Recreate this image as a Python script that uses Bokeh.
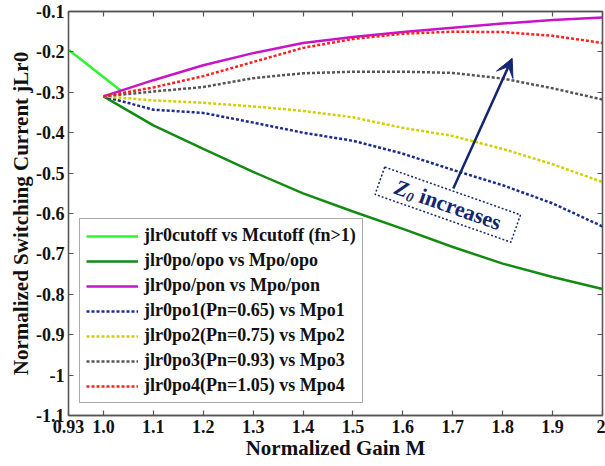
import math
from bokeh.plotting import figure
from bokeh.models import (Range1d, FixedTicker, LinearAxis, Legend, LegendItem,
                          Label, Arrow, VeeHead)
from bokeh.embed import file_html
from bokeh.resources import INLINE

# ---------------- data ----------------
M = [1.0, 1.1, 1.2, 1.3, 1.4, 1.5, 1.6, 1.7, 1.8, 1.9, 2.0]

M_cutoff = [0.93, 0.95, 0.98, 1.0, 1.035]
j_cutoff = [-0.195, -0.214, -0.243, -0.262, -0.296]

j_opo = [-0.31, -0.382, -0.44, -0.497, -0.55, -0.595, -0.638, -0.683, -0.724, -0.757, -0.787]
j_pon = [-0.31, -0.27, -0.233, -0.203, -0.178, -0.163, -0.151, -0.14, -0.13, -0.121, -0.115]
j_po1 = [-0.31, -0.343, -0.351, -0.375, -0.40, -0.42, -0.452, -0.492, -0.53, -0.575, -0.632]
j_po2 = [-0.31, -0.32, -0.326, -0.335, -0.346, -0.362, -0.388, -0.408, -0.44, -0.478, -0.522]
j_po3 = [-0.31, -0.298, -0.287, -0.265, -0.253, -0.249, -0.249, -0.252, -0.266, -0.29, -0.318]
j_po4 = [-0.31, -0.288, -0.26, -0.225, -0.19, -0.168, -0.155, -0.15, -0.151, -0.16, -0.178]

legend_labels = ["jlr0cutoff vs Mcutoff (fn>1)", "jlr0po/opo vs Mpo/opo", "jlr0po/pon vs Mpo/pon",
                 "jlr0po1(Pn=0.65) vs Mpo1", "jlr0po2(Pn=0.75) vs Mpo2",
                 "jlr0po3(Pn=0.93) vs Mpo3", "jlr0po4(Pn=1.05) vs Mpo4"]

x_ticks = [0.93, 1.0, 1.1, 1.2, 1.3, 1.4, 1.5, 1.6, 1.7, 1.8, 1.9, 2.0]
x_tick_labels = ["0.93", "1.0", "1.1", "1.2", "1.3", "1.4", "1.5", "1.6", "1.7", "1.8", "1.9", "2"]
y_ticks = [-1.1, -1.0, -0.9, -0.8, -0.7, -0.6, -0.5, -0.4, -0.3, -0.2, -0.1]
y_tick_labels = ["-1.1", "-1", "-0.9", "-0.8", "-0.7", "-0.6", "-0.5", "-0.4", "-0.3", "-0.2", "-0.1"]

x_title = "Normalized Gain M"
y_title = "Normalized Switching Current jLr0"

# annotation anchors (data units)
arrow_tail = (1.701, -0.538)
arrow_tip = (1.819, -0.216)
box_center = (1.690, -0.578)

FONT = "Liberation Serif"
NAVY = "#14266e"

p = figure(width=605, height=466, output_backend="svg", toolbar_location=None,
           x_range=Range1d(0.93, 2.0), y_range=Range1d(-1.1, -0.1),
           min_border_left=68, min_border_right=3, min_border_top=11, min_border_bottom=51,
           x_axis_location=None, y_axis_location=None)
p.grid.visible = False
p.outline_line_color = "#555555"
p.outline_line_width = 1.3
p.background_fill_color = "white"
p.border_fill_color = "white"


def make_axis(ticks, labels, show_labels, title=None):
    ax = LinearAxis(ticker=FixedTicker(ticks=ticks))
    ax.major_tick_in = 5
    ax.major_tick_out = 0
    ax.minor_tick_in = 0
    ax.minor_tick_out = 0
    ax.axis_line_color = "#555555"
    ax.axis_line_width = 1.3
    ax.major_tick_line_color = "#555555"
    ax.major_tick_line_width = 1.2
    ax.major_label_text_font = FONT
    ax.major_label_text_font_style = "bold"
    if show_labels:
        ax.major_label_overrides = {t: l for t, l in zip(ticks, labels)}
        ax.major_label_text_color = "#111111"
        ax.major_label_text_font_size = "18px"
        ax.major_label_standoff = 4
    else:
        ax.major_label_overrides = {t: "" for t in ticks}
        ax.major_label_text_color = None
        ax.major_label_text_font_size = "1px"
        ax.major_label_standoff = 0
    if title:
        ax.axis_label = title
        ax.axis_label_text_font = FONT
        ax.axis_label_text_font_style = "bold"
        ax.axis_label_text_font_size = "21px"
        ax.axis_label_text_color = "#111111"
        ax.axis_label_standoff = 0
    return ax


p.add_layout(make_axis(x_ticks, x_tick_labels, True, x_title), "below")
p.add_layout(make_axis(y_ticks, y_tick_labels, True, y_title), "left")
p.add_layout(make_axis(x_ticks, x_tick_labels, False), "above")
p.add_layout(make_axis(y_ticks, y_tick_labels, False), "right")

# ---------------- lines ----------------
LW = 2.5
DOT = "3 2"
r0 = p.line(M_cutoff, j_cutoff, line_color="#2ef52e", line_width=LW)
r1 = p.line(M, j_opo, line_color="#138a13", line_width=LW)
r2 = p.line(M, j_pon, line_color="#c814c8", line_width=LW)
r3 = p.line(M, j_po1, line_color="#1c2c8c", line_width=LW, line_dash=DOT)
r4 = p.line(M, j_po2, line_color="#d0d000", line_width=LW, line_dash=DOT)
r5 = p.line(M, j_po3, line_color="#555555", line_width=LW, line_dash=DOT)
r6 = p.line(M, j_po4, line_color="#ff2020", line_width=LW, line_dash=DOT)

renderers = [r0, r1, r2, r3, r4, r5, r6]
legend = Legend(items=[LegendItem(label=l, renderers=[r]) for l, r in zip(legend_labels, renderers)],
                location=(11, 12), orientation="vertical",
                label_text_font=FONT, label_text_font_style="bold", label_text_font_size="18px",
                label_text_color="#111111",
                label_height=20, glyph_height=20, glyph_width=52, label_standoff=6,
                spacing=4, padding=6, margin=0,
                border_line_color="#555555", border_line_width=1.5,
                background_fill_color="white", background_fill_alpha=1.0)
p.add_layout(legend)

# ---------------- annotation ----------------
p.add_layout(Arrow(end=VeeHead(size=18, fill_color=NAVY, line_color=NAVY),
                   x_start=arrow_tail[0], y_start=arrow_tail[1],
                   x_end=arrow_tip[0], y_end=arrow_tip[1],
                   line_color=NAVY, line_width=2.5))

theta = math.radians(19.4)
p.rect(x=[box_center[0]], y=[box_center[1]], width=144, height=29,
       width_units="screen", height_units="screen", angle=-theta,
       fill_color="white", fill_alpha=0.0, line_color=NAVY, line_width=1.5, line_dash="2 2")

ux, uy = math.cos(theta), -math.sin(theta)   # along text, y up positive
vx, vy = -math.sin(theta), -math.cos(theta)   # downward perpendicular (y up positive)


def place(s, d=0.0):
    return s * ux + d * vx, s * uy + d * vy


for txt, s, d, size, style in [("Z", -48.6, 0.0, "22px", "bold italic"),
                               ("0", -38.4, 5.0, "14px", "bold italic"),
                               ("increases", 13.4, 0.0, "22px", "bold")]:
    ox, oy = place(s, d)
    p.add_layout(Label(x=box_center[0], y=box_center[1], x_offset=ox, y_offset=oy,
                       text=txt, angle=-theta, text_align="center", text_baseline="middle",
                       text_font=FONT, text_font_size=size, text_font_style=style,
                       text_color=NAVY))

open("out.html", "w").write(file_html(p, INLINE))
